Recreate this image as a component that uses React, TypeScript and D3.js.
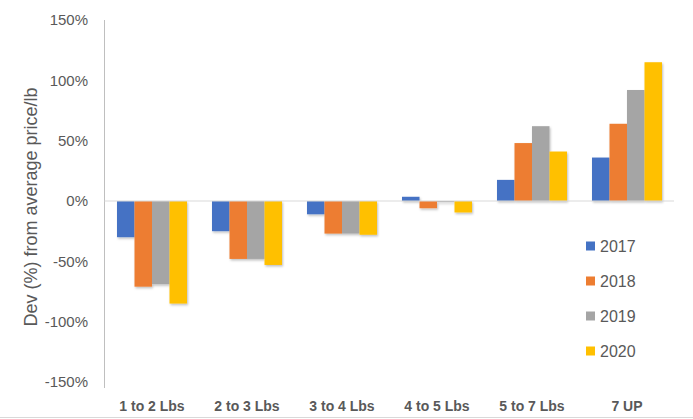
import React from "react";
import * as d3 from "d3";

const categories = ["1 to 2 Lbs", "2 to 3 Lbs", "3 to 4 Lbs", "4 to 5 Lbs", "5 to 7 Lbs", "7 UP"];
const seriesNames = ["2017", "2018", "2019", "2020"];
const v2017 = [-30, -25, -11, 3.5, 17.5, 36];
const v2018 = [-71, -48, -27, -6, 48, 64];
const v2019 = [-69, -48, -27, -1, 62, 92];
const v2020 = [-85, -53, -28, -9.5, 41, 115];
const yTicks = [150, 100, 50, 0, -50, -100, -150];
const colors = ["#4472C4", "#ED7D31", "#A5A5A5", "#FFC000"];

const W = 693;
const H = 419;

export default function App() {
  const values = [v2017, v2018, v2019, v2020];
  const y = d3.scaleLinear().domain([-150, 150]).range([382, 20]);
  const x0 = d3
    .scaleBand<string>()
    .domain(categories)
    .range([104.5, 674.5])
    .paddingInner(25 / 95)
    .paddingOuter(12.5 / 95);
  const x1 = d3.scaleBand<string>().domain(seriesNames).range([0, x0.bandwidth()]).padding(0);
  const grey = "#595959";

  return (
    <svg
      width={W}
      height={H}
      style={{ position: "absolute", left: 0, top: 0, background: "#fff" }}
      fontFamily="'Liberation Sans', Arial, sans-serif"
    >
      <defs>
        <filter id="sh" x="-30%" y="-10%" width="160%" height="130%">
          <feDropShadow dx="1" dy="1.5" stdDeviation="1.2" floodColor="#000" floodOpacity="0.25" />
        </filter>
      </defs>
      <rect x={0} y={0} width={W} height={H} fill="#fff" />
      <line x1={104.5} x2={104.5} y1={20} y2={388} stroke="#BFBFBF" strokeWidth={1} />
      {yTicks.map((t) => (
        <text key={t} x={88} y={y(t)} dy="0.35em" textAnchor="end" fontSize={15} fill={grey}>
          {t + "%"}
        </text>
      ))}
      {categories.map((c, ci) => (
        <g key={c} filter="url(#sh)">
          {seriesNames.map((s, si) => {
            const v = values[si][ci];
            const yv = y(v);
            const y0 = y(0);
            return (
              <rect
                key={s}
                x={(x0(c) as number) + (x1(s) as number)}
                y={Math.min(yv, y0)}
                width={x1.bandwidth()}
                height={Math.abs(yv - y0)}
                fill={colors[si]}
              />
            );
          })}
        </g>
      ))}
      <line x1={104.5} x2={674} y1={y(0)} y2={y(0)} stroke="#D9D9D9" strokeWidth={1} />
      {categories.map((c) => (
        <text
          key={c}
          x={(x0(c) as number) + x0.bandwidth() / 2}
          y={411}
          textAnchor="middle"
          fontSize={14}
          fontWeight="bold"
          fill={grey}
        >
          {c}
        </text>
      ))}
      <text
        transform={`translate(37,207) rotate(-90)`}
        textAnchor="middle"
        fontSize={18}
        fill={grey}
      >
        Dev (%) from average price/lb
      </text>
      {seriesNames.map((s, i) => (
        <g key={s} transform={`translate(586,${246 + i * 35})`}>
          <rect x={0} y={-4.5} width={9} height={9} fill={colors[i]} />
          <text x={14} y={0} dy="0.35em" fontSize={16} fill={grey}>
            {s}
          </text>
        </g>
      ))}
      <line x1={0} x2={W} y1={417.5} y2={417.5} stroke="#D9D9D9" strokeWidth={1} />
    </svg>
  );
}
